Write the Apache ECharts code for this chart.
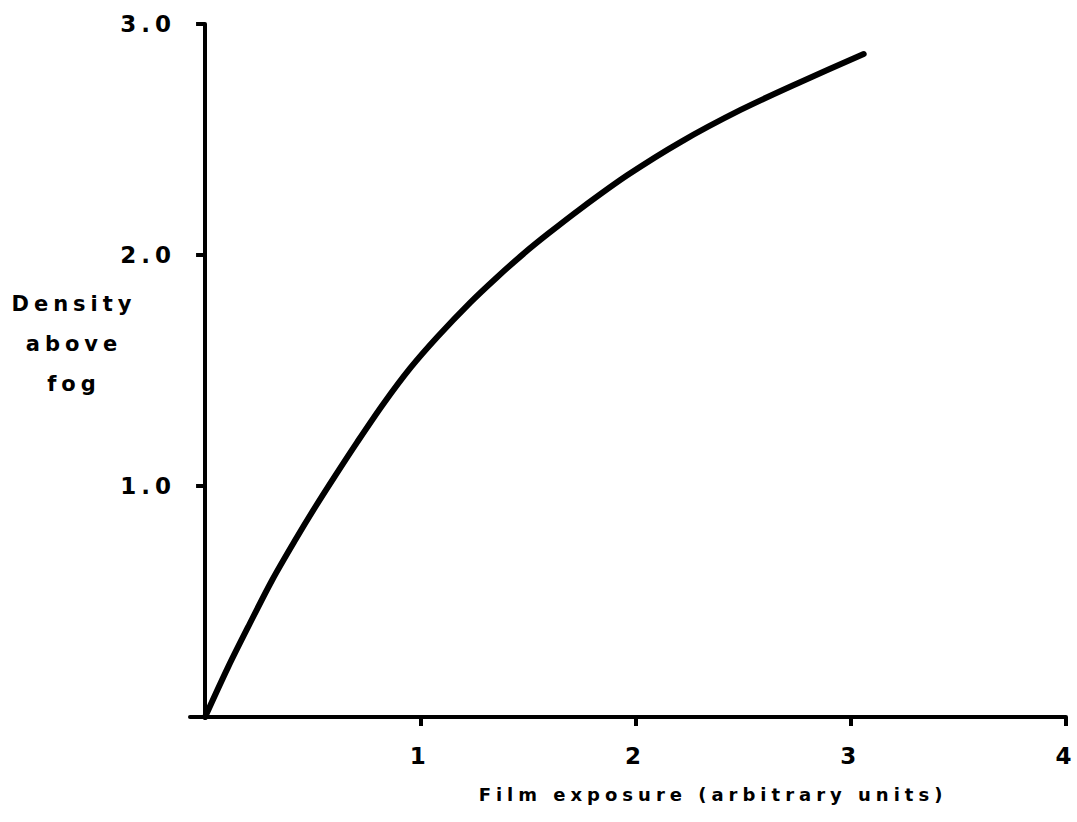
<!DOCTYPE html>
<html>
<head>
<meta charset="utf-8">
<script src="https://cdn.jsdelivr.net/npm/echarts@6/dist/echarts.min.js"></script>
<style>
  html, body { margin: 0; padding: 0; background: #fff; }
  #chart { width: 1077px; height: 822px; }
  #chart svg text { letter-spacing: 5px; }
</style>
</head>
<body>
<div id="chart"></div>
<script>
// Data
const exposure = [0, 0.107, 0.200, 0.312, 0.419, 0.512, 0.605, 0.707, 0.828, 0.953, 1.079, 1.233, 1.358, 1.479, 1.591, 1.744, 1.963, 2.209, 2.488, 2.767, 3.060];
const density  = [0, 0.216, 0.390, 0.593, 0.766, 0.909, 1.045, 1.190, 1.355, 1.510, 1.645, 1.795, 1.905, 2.005, 2.090, 2.200, 2.346, 2.489, 2.628, 2.749, 2.870];
const xTicks = [1, 2, 3, 4];
const yTicks = [1, 2, 3];
const yTitle = 'Density\nabove\nfog';
const xTitle = 'Film exposure (arbitrary units)';

const FONT = '"DejaVu Sans", sans-serif';
const chart = echarts.init(document.getElementById('chart'), null, { renderer: 'svg' });

chart.setOption({
  animation: false,
  backgroundColor: '#fff',
  grid: { left: 190, right: 10, top: 24, bottom: 105 },
  xAxis: {
    type: 'value', min: -0.07, max: 4,
    axisLine: { show: true, lineStyle: { color: '#000', width: 4, cap: 'round' } },
    axisTick: { show: true, customValues: xTicks, length: 9, lineStyle: { color: '#000', width: 4 } },
    axisLabel: { customValues: xTicks, margin: 27, color: '#000', fontFamily: FONT, fontWeight: 'bold', fontSize: 23 },
    splitLine: { show: false }
  },
  yAxis: {
    type: 'value', min: 0, max: 3,
    axisLine: { show: true, onZero: true, lineStyle: { color: '#000', width: 4, cap: 'round' } },
    axisTick: { show: true, customValues: yTicks, length: 9, lineStyle: { color: '#000', width: 4 } },
    axisLabel: { customValues: yTicks, margin: 14, color: '#000', fontFamily: FONT, fontWeight: 'bold', fontSize: 23,
      formatter: v => v.toFixed(1) },
    splitLine: { show: false }
  },
  series: [{
    type: 'line',
    data: exposure.map((x, i) => [x, density[i]]),
    smooth: 0.3,
    symbol: 'none',
    lineStyle: { color: '#000', width: 6, cap: 'round' }
  }],
  graphic: [
    { type: 'text', x: 74, y: 284,
      style: { text: yTitle, fill: '#000', font: 'bold 21px ' + FONT, lineHeight: 40, align: 'center', verticalAlign: 'top' } },
    { type: 'text', x: 713, y: 794,
      style: { text: xTitle, fill: '#000', font: 'bold 18px ' + FONT, align: 'center', verticalAlign: 'middle' } }
  ]
});
</script>
</body>
</html>
